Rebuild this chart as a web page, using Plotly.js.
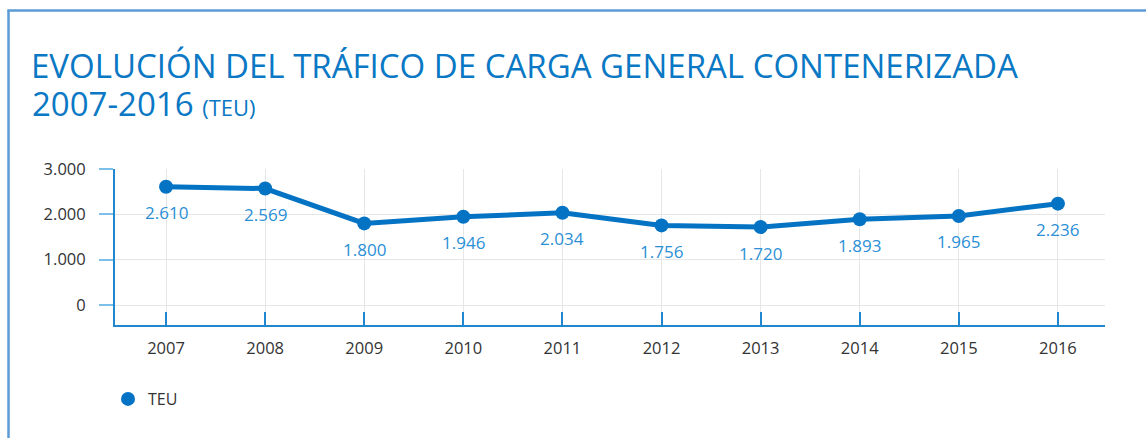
<!DOCTYPE html>
<html>
<head>
<meta charset="utf-8">
<script src="https://cdn.plot.ly/plotly-3.0.1.min.js"></script>
<style>
html,body{margin:0;padding:0;background:#fff;}
#chart{width:1146px;height:438px;}
</style>
</head>
<body>
<div id="chart"></div>
<script>
const years = ['2007','2008','2009','2010','2011','2012','2013','2014','2015','2016'];
const teu = [2610, 2569, 1800, 1946, 2034, 1756, 1720, 1893, 1965, 2236];
const valueLabels = ['2.610','2.569','1.800','1.946','2.034','1.756','1.720','1.893','1.965','2.236'];
const yTickVals = [0, 1000, 2000, 3000];
const yTickText = ['0','1.000','2.000','3.000'];
const seriesName = 'TEU';
const titleMain = 'EVOLUCIÓN DEL TRÁFICO DE CARGA GENERAL CONTENERIZADA';
const titleSub = '2007-2016';
const titleUnit = '(TEU)';

const W = 1146, H = 438;
const mL = 115, mR = 41, mT = 169, mB = 113;
const pw = W - mL - mR, ph = H - mT - mB;
const px = x => (x - mL) / pw;
const py = y => 1 - (y - mT) / ph;

const lineBlue = '#0573c4';
const labelBlue = '#2b8fd6';
const titleBlue = '#0a78c4';
const frameBlue = '#5b9bd5';
const FONT = 'Open Sans, sans-serif';

const lineTrace = {
  type: 'scatter',
  mode: 'lines',
  x: years,
  y: teu,
  name: seriesName,
  showlegend: false,
  line: {color: lineBlue, width: 5},
  hoverinfo: 'skip'
};
const markerTrace = {
  type: 'scatter',
  mode: 'markers',
  x: years,
  y: teu,
  name: seriesName,
  marker: {color: lineBlue, size: 14},
  hoverinfo: 'skip'
};

const annotations = years.map((yr, i) => ({
  x: i, y: teu[i], xref: 'x', yref: 'y',
  text: valueLabels[i], showarrow: false,
  yanchor: 'middle', xanchor: 'center', yshift: -26,
  font: {family: FONT, size: 17, color: labelBlue}
}));
annotations.push({
  xref: 'paper', yref: 'paper', x: px(30), y: py(104),
  xanchor: 'left', yanchor: 'middle', showarrow: false,
  text: titleSub + ' <span style="font-size:22px">' + titleUnit + '</span>',
  font: {family: FONT, size: 33, color: titleBlue}
});

const layout = {
  width: W, height: H,
  margin: {l: mL, r: mR, t: mT, b: mB},
  paper_bgcolor: '#fff', plot_bgcolor: '#fff',
  separators: ',.',
  title: {
    text: titleMain,
    font: {family: FONT, size: 33, color: titleBlue},
    xref: 'container', yref: 'container',
    x: 31 / W, xanchor: 'left',
    y: 1 - 66 / H, yanchor: 'middle'
  },
  xaxis: {
    type: 'category',
    range: [-0.515, 9.475],
    showgrid: true, gridcolor: '#e6e6e6', gridwidth: 1,
    showline: true, linecolor: '#1f88d0', linewidth: 2,
    ticks: 'inside', ticklen: 13, tickwidth: 2, tickcolor: '#1f88d0',
    ticklabelstandoff: 7,
    tickfont: {family: FONT, size: 16.5, color: '#333'},
    zeroline: false, fixedrange: true
  },
  yaxis: {
    range: [-440, 3000],
    tickvals: yTickVals, ticktext: yTickText,
    showgrid: true, gridcolor: '#e6e6e6', gridwidth: 1,
    showline: true, linecolor: '#1f88d0', linewidth: 2,
    ticks: 'outside', ticklen: 14, tickwidth: 2, tickcolor: '#7cc0ea',
    ticklabelstandoff: 10,
    tickfont: {family: FONT, size: 16.5, color: '#333'},
    zeroline: false, fixedrange: true
  },
  showlegend: true,
  legend: {
    x: px(108), xanchor: 'left',
    y: py(399), yanchor: 'middle',
    font: {family: FONT, size: 16, color: '#333'},
    bgcolor: 'rgba(0,0,0,0)'
  },
  annotations: annotations,
  shapes: [
    {type: 'line', xref: 'paper', yref: 'paper', x0: px(8.5), x1: px(8.5), y0: py(10.5), y1: py(440), line: {color: frameBlue, width: 2.5}},
    {type: 'line', xref: 'paper', yref: 'paper', x0: px(7.3), x1: px(1148), y0: py(10.5), y1: py(10.5), line: {color: frameBlue, width: 2.5}}
  ]
};

Plotly.newPlot('chart', [lineTrace, markerTrace], layout, {displayModeBar: false, staticPlot: true});
</script>
</body>
</html>
